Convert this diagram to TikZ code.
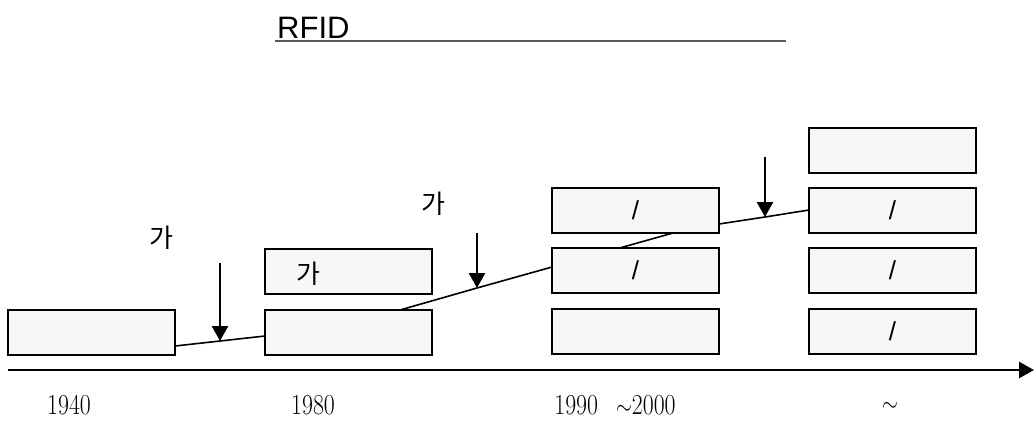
\documentclass[tikz,border=0pt]{standalone}
\usepackage{fontspec}
\usepackage{tikz}
\usetikzlibrary{arrows.meta,positioning}
\newfontfamily\kofont{Noto Sans CJK KR}
\newfontfamily\titlefont{Liberation Sans}
\definecolor{boxfill}{RGB}{247,247,247}
\definecolor{rulegray}{RGB}{90,90,90}

\begin{document}
\begin{tikzpicture}[x=1pt, y=-1pt,
  era/.style={rectangle, draw=black, fill=boxfill, line width=1.6pt,
    minimum width=167pt, minimum height=45pt, inner sep=0pt,
    font=\titlefont\fontsize{26}{26}\selectfont},
  kolabel/.style={font=\kofont\fontsize{26}{26}\selectfont, inner sep=0pt},
  year/.style={font=\fontsize{29}{29}\selectfont, inner sep=0pt,
    xscale=.82, transform shape},
  trend/.style={line width=1.6pt},
  drop/.style={-{Triangle[length=15pt,width=16pt]}, line width=2.6pt},
  axis/.style={-{Triangle[length=15pt,width=16pt]}, line width=2.8pt}
]
\useasboundingbox (0,0) rectangle (1035,421);

% title
\node[font=\titlefont\fontsize{31}{31}\selectfont, inner sep=0pt, anchor=base west]
  (title) at (277,38) {RFID};
\coordinate (ul1) at (275,41);
\coordinate (ul2) at (786,41);
\draw[rulegray, line width=1.3pt] (ul1) -- (ul2);

% trend line (behind the boxes)
\coordinate (p0) at (175,346);
\coordinate (t1) at (220,341);
\coordinate (p1) at (265,336);
\coordinate (p2) at (400,310);
\coordinate (t2) at (477,288);
\coordinate (p3) at (552,267);
\coordinate (p4) at (673,233);
\coordinate (p5) at (719,224);
\coordinate (t3) at (765,217);
\coordinate (p6) at (809,210);
\draw[trend] (p0) -- (t1) -- (p1) -- (p2) -- (t2) -- (p3) -- (p4) -- (p5) -- (t3) -- (p6);

% boxes
\node[era] (a1) at (91.5,332.5) {};
\node[era] (b1) at (348.5,271.5) {};
\node[era] (b2) at (348.5,332.5) {};
\node[era] (c1) at (635.5,210.5) {/};
\node[era] (c2) at (635.5,270.5) {/};
\node[era] (c3) at (635.5,331.5) {};
\node[era] (d1) at (892.5,150.5) {};
\node[era] (d2) at (892.5,210.5) {/};
\node[era] (d3) at (892.5,270.5) {/};
\node[era] (d4) at (892.5,331.5) {/};
\node[kolabel] (k0) at (308,274) {가};

% labels above the arrows
\node[kolabel] (k1) at (161,238) {가};
\node[kolabel] (k2) at (433,204) {가};

% arrows onto the trend line
\coordinate (s1) at (220,263);
\coordinate (s2) at (477,233);
\coordinate (s3) at (765,157);
\draw[drop] (s1) -- (t1);
\draw[drop] (s2) -- (t2);
\draw[drop] (s3) -- (t3);

% time axis
\coordinate (x0) at (8,370);
\coordinate (x1) at (1034,370);
\draw[axis] (x0) -- (x1);

\node[year] (y1) at (69,405) {1940};
\node[year] (y2) at (313,405) {1980};
\node[year] (y3) at (615,405) {1990\hspace{22pt}$\sim$2000};
\node[year] (y4) at (890,407) {$\sim$};
\end{tikzpicture}
\end{document}
